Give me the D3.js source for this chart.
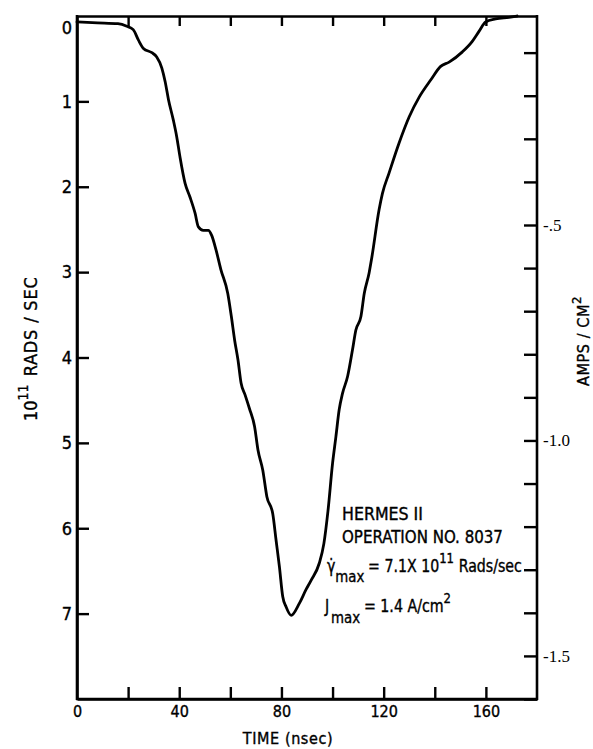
<!DOCTYPE html>
<html>
<head>
<meta charset="utf-8">
<script src="https://cdn.jsdelivr.net/npm/d3@7"></script>
<style>
  html, body { margin: 0; padding: 0; background: #fff; }
  svg { display: block; }
  .lbl { font-family: "Liberation Sans Narrow", "DejaVu Sans Condensed", "Arial Narrow", sans-serif; font-stretch: condensed; fill: #000; stroke: #000; stroke-width: 0.35px; }
  .serif { font-family: "Liberation Serif", "DejaVu Serif", serif; fill: #000; }
</style>
</head>
<body>
<svg id="chart" width="593" height="749"></svg>
<script>
// HERMES II pulse: dose rate (10^11 rads/sec) against time (nsec)
const timeNs = [0, 8, 16, 19.5, 22, 24, 26, 29.3, 31.2, 33.2, 34.5, 35.8, 37.7, 39, 40.3,
  42.3, 44.2, 46.2, 47.5, 49.4, 51.4, 52.7, 54.4, 56.3, 59, 60.4, 61.7, 63, 64.2, 65.8,
  67.5, 69.5, 70.8, 72.7, 74.3, 76.6, 77.9, 79.2, 80.5, 81.8, 83.8, 87, 89.6, 91.6,
  94.8, 96.6, 98.2, 100, 101.3, 102.6, 103.9, 105.9, 107.8, 109.1, 111.1, 112.4, 114.3,
  115.3, 118.2, 119.5, 122.1, 126, 130, 133.9, 138.4, 142.3, 145.6, 150.8, 154.6,
  157.3, 159.9, 163.8, 169, 172.2];
const doseRate = [0.07, 0.08, 0.09, 0.12, 0.16, 0.28, 0.38, 0.43, 0.48, 0.61, 0.77, 0.98,
  1.22, 1.41, 1.65, 1.96, 2.12, 2.31, 2.47, 2.51, 2.51, 2.57, 2.74, 2.97, 3.25, 3.52,
  3.80, 4.03, 4.30, 4.44, 4.60, 4.81, 5.08, 5.32, 5.63, 5.83, 6.14, 6.45, 6.80, 6.92,
  7.02, 6.88, 6.72, 6.61, 6.41, 6.18, 5.80, 5.24, 4.93, 4.61, 4.42, 4.22, 3.91, 3.68,
  3.52, 3.25, 3.01, 2.84, 2.27, 2.08, 1.84, 1.49, 1.18, 0.95, 0.75, 0.59, 0.54, 0.42,
  0.30, 0.18, 0.07, 0.035, 0.015, 0.0];

// axis ticks
const rateTicks = [0, 1, 2, 3, 4, 5, 6, 7];
const timeTicks = [0, 20, 40, 60, 80, 100, 120, 140, 160];
const timeLabels = [0, 40, 80, 120, 160];
const currentTicks = [-0.1, -0.2, -0.3, -0.4, -0.5, -0.6, -0.7, -0.8, -0.9, -1.0,
  -1.1, -1.2, -1.3, -1.4, -1.5, -1.6];
const currentLabelValues = [-0.5, -1.0, -1.5];
const currentLabelText = ["-.5", "-1.0", "-1.5"];

const svg = d3.select("#chart");
const plotLeft = 77, plotRight = 537, plotTop = 16, plotBottom = 699;

const x = d3.scaleLinear().domain([0, 180]).range([plotLeft, plotRight]);
const y = d3.scaleLinear().domain([0, 8]).range([plotTop, plotBottom]);
const yAmps = d3.scaleLinear().domain([-0.015, -1.6]).range([plotTop, plotBottom]);

function styleAxis(g) {
  g.select(".domain").attr("stroke", "#000").attr("stroke-width", 2.6);
  g.selectAll(".tick line").attr("stroke", "#000").attr("stroke-width", 2.4);
  g.selectAll(".tick text").attr("fill", "#000");
}

// squeeze a text line horizontally so it spans the given width from its start point
function fitWidth(sel, width) {
  const node = sel.node();
  const w = node.getBBox().width;
  const x0 = +sel.attr("x"), y0 = +sel.attr("y");
  const s = width / w;
  sel.attr("transform", `translate(${x0},${y0}) scale(${s},1) translate(${-x0},${-y0})`);
}

// left axis: 10^11 rads/sec
const gLeft = svg.append("g").attr("class", "lbl")
  .attr("transform", `translate(${plotLeft},0)`)
  .call(d3.axisLeft(y).tickValues(rateTicks).tickSize(-12).tickSizeOuter(0).tickPadding(5)
    .tickFormat(d3.format("d")))
  .call(styleAxis);
gLeft.attr("font-family", null).attr("font-size", 18);
gLeft.selectAll(".tick").filter(d => d === 0).select("text").attr("dy", "0.95em");
gLeft.selectAll(".tick").filter(d => d === 0).select("line").remove();

// bottom axis: time
const gBottom = svg.append("g").attr("class", "lbl")
  .attr("transform", `translate(0,${plotBottom})`)
  .call(d3.axisBottom(x).tickValues(timeTicks).tickSize(-12).tickSizeOuter(0).tickPadding(7)
    .tickFormat(d => timeLabels.includes(d) ? d : ""))
  .call(styleAxis);
gBottom.attr("font-family", null).attr("font-size", 16);
gBottom.selectAll(".tick").filter(d => d === 0).select("line").remove();

// top frame with short ticks
svg.append("g")
  .attr("transform", `translate(0,${plotTop})`)
  .call(d3.axisTop(x).tickValues(timeTicks.filter(d => d > 0)).tickSize(-10).tickSizeOuter(0).tickFormat(""))
  .call(styleAxis);

// right axis: amps/cm^2
const gRight = svg.append("g").attr("class", "serif")
  .attr("transform", `translate(${plotRight},0)`)
  .call(d3.axisRight(yAmps).tickValues(currentTicks).tickSize(-13).tickSizeOuter(0).tickPadding(6)
    .tickFormat(d => {
      const i = currentLabelValues.findIndex(v => Math.abs(v - d) < 1e-9);
      return i >= 0 ? currentLabelText[i] : "";
    }))
  .call(styleAxis);
gRight.attr("font-family", null).attr("font-size", 17);
gRight.select(".domain").attr("d", `M0,${plotTop - 1}V${plotBottom + 1}`);

// frame edges on the left and bottom
svg.append("line").attr("x1", plotLeft).attr("x2", plotLeft).attr("y1", plotTop - 1).attr("y2", plotBottom + 1)
  .attr("stroke", "#000").attr("stroke-width", 2.6);
svg.append("line").attr("x1", plotLeft - 1).attr("x2", plotRight + 1).attr("y1", plotBottom).attr("y2", plotBottom)
  .attr("stroke", "#000").attr("stroke-width", 2.6);

// dose-rate trace
const pts = timeNs.map((t, i) => [t, doseRate[i]]);
svg.append("path")
  .datum(pts)
  .attr("fill", "none")
  .attr("stroke", "#000")
  .attr("stroke-width", 2.8)
  .attr("stroke-linejoin", "round")
  .attr("stroke-linecap", "round")
  .attr("d", d3.line().x(d => x(d[0])).y(d => y(d[1])).curve(d3.curveMonotoneX));

// axis titles
svg.append("text").attr("class", "lbl")
  .attr("x", 288).attr("y", 744).attr("text-anchor", "middle")
  .attr("font-size", 16).attr("letter-spacing", 0.6)
  .text("TIME (nsec)");

const yTitle = svg.append("text").attr("class", "lbl")
  .attr("transform", "translate(37,421) rotate(-90)")
  .attr("font-size", 18);
yTitle.append("tspan").text("10");
yTitle.append("tspan").attr("font-size", 14).attr("dy", -9).text("11");
yTitle.append("tspan").attr("dy", 9).attr("dx", 8).attr("letter-spacing", 0.8).text("RADS / SEC");

const aTitle = svg.append("text").attr("class", "lbl")
  .attr("transform", "translate(589,386) rotate(-90)")
  .attr("font-size", 16);
aTitle.append("tspan").attr("letter-spacing", 0.6).text("AMPS / CM");
aTitle.append("tspan").attr("font-size", 13).attr("dy", -8).text("2");

// shot annotation
const note = svg.append("g").attr("class", "lbl").attr("font-size", 17);
const t1 = note.append("text").attr("x", 342).attr("y", 520).text("HERMES II");
const t2 = note.append("text").attr("x", 342).attr("y", 543).text("OPERATION NO. 8037");

const g1 = note.append("text").attr("x", 327).attr("y", 572);
g1.append("tspan").text("\u03B3\u0307");
g1.append("tspan").attr("font-size", 16).attr("dy", 10).text("max");
g1.append("tspan").attr("dy", -10).attr("dx", 4).text("= 7.1X 10");
g1.append("tspan").attr("font-size", 14).attr("dy", -9).text("11");
g1.append("tspan").attr("dy", 9).attr("dx", 5).text("Rads/sec");

const g2 = note.append("text").attr("x", 325).attr("y", 612);
g2.append("tspan").text("J");
g2.append("tspan").attr("font-size", 16).attr("dy", 11).attr("dx", 2).text("max");
g2.append("tspan").attr("dy", -11).attr("dx", 4).text("= 1.4 A/cm");
g2.append("tspan").attr("font-size", 14).attr("dy", -9).text("2");

fitWidth(t1, 81);
fitWidth(t2, 161);
fitWidth(g1, 195);
fitWidth(g2, 127);
</script>
</body>
</html>
